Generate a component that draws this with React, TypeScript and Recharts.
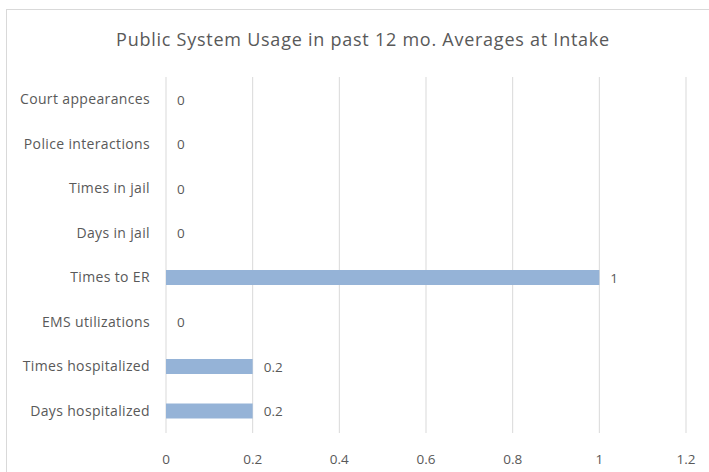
import React from "react";
import { BarChart, Bar, XAxis, YAxis, CartesianGrid } from "recharts";

const categories = [
  "Court appearances",
  "Police interactions",
  "Times in jail",
  "Days in jail",
  "Times to ER",
  "EMS utilizations",
  "Times hospitalized",
  "Days hospitalized",
];
const averages = [0, 0, 0, 0, 1, 0, 0.2, 0.2];
const xTicks = [0, 0.2, 0.4, 0.6, 0.8, 1, 1.2];
const title = "Public System Usage in past 12 mo. Averages at Intake";

const data = categories.map((name, i) => ({ name, value: averages[i] }));

const FONT = "'Open Sans', Lato, sans-serif";
const TEXT = "#595959";

const BarWithLabel = (props: any) => {
  const { x, y, width, height, value, fill } = props;
  const v = Array.isArray(value) ? value[1] : value;
  const w = Math.max(0, width || 0);
  return (
    <g>
      {w > 0 && <rect x={x} y={y} width={w} height={height} fill={fill} />}
      <text
        x={x + w + 11}
        y={y + height / 2}
        dominantBaseline="central"
        fill={TEXT}
        fontSize={13.5}
        fontFamily={FONT}
      >
        {String(v)}
      </text>
    </g>
  );
};

export default function App() {
  return (
    <div style={{ position: "absolute", left: 0, top: 0, width: 709, height: 472, overflow: "hidden", background: "#fff", fontFamily: FONT }}>
      <div style={{ position: "absolute", left: 6, top: 9, width: 740, height: 500, border: "1px solid #d9d9d9", boxSizing: "border-box" }} />
      <div style={{ position: "absolute", left: 0, width: 726, top: 26, textAlign: "center", fontSize: 18, letterSpacing: 0.75, color: TEXT, lineHeight: "26px" }}>
        {title}
      </div>
      <div style={{ position: "absolute", left: 0, top: 0 }}>
        <BarChart
          width={709}
          height={472}
          data={data}
          layout="vertical"
          margin={{ top: 77, right: 23, bottom: 9, left: 0 }}
        >
          <CartesianGrid horizontal={false} vertical={true} stroke="#d9d9d9" />
          <XAxis
            type="number"
            domain={[0, 1.2]}
            ticks={xTicks}
            axisLine={false}
            tickLine={false}
            tickMargin={15}
            height={30}
            interval={0}
            tick={{ fill: TEXT, fontSize: 13.5, fontFamily: FONT }}
          />
          <YAxis
            type="category"
            dataKey="name"
            width={166}
            axisLine={false}
            tickLine={false}
            tickMargin={10}
            interval={0}
            tick={{ fill: TEXT, fontSize: 14, fontFamily: FONT, letterSpacing: 0.35 }}
          />
          <Bar dataKey="value" fill="#95b3d7" barSize={15} isAnimationActive={false} shape={BarWithLabel} />
        </BarChart>
      </div>
    </div>
  );
}
